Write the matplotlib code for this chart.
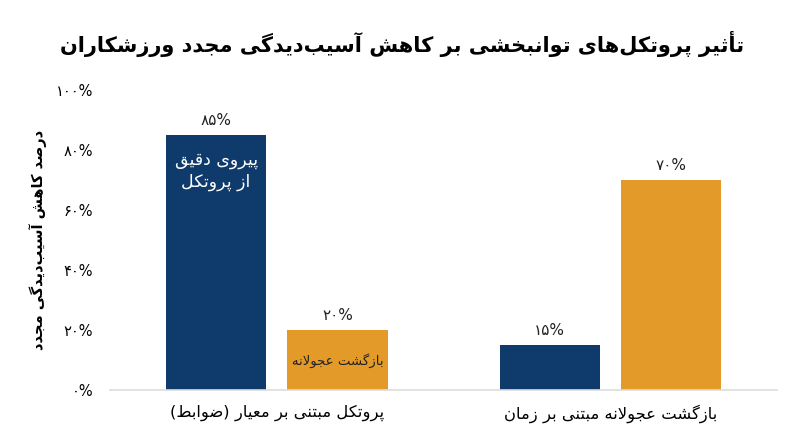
import matplotlib
matplotlib.use('Agg')
import matplotlib.pyplot as plt

plt.rcParams['font.family'] = ['DejaVu Sans']

title = 'تأثیر پروتکل‌های توانبخشی بر کاهش آسیب‌دیدگی مجدد ورزشکاران'
y_label = 'درصد کاهش آسیب‌دیدگی مجدد'
categories = ['پروتکل مبتنی بر معیار (ضوابط)', 'بازگشت عجولانه مبتنی بر زمان']
strict_values = [85, 15]
rushed_values = [20, 70]
strict_name = 'پیروی دقیق\nاز پروتکل'
rushed_name = 'بازگشت عجولانه'
y_ticks = [0, 20, 40, 60, 80, 100]

BLUE = '#0e3a6c'
ORANGE = '#e39a28'

# isolated, final, initial, medial
FORMS = {
    'ا': (0xFE8D, 0xFE8E, None, None), 'آ': (0xFE81, 0xFE82, None, None),
    'أ': (0xFE83, 0xFE84, None, None), 'د': (0xFEA9, 0xFEAA, None, None),
    'ذ': (0xFEAB, 0xFEAC, None, None), 'ر': (0xFEAD, 0xFEAE, None, None),
    'ز': (0xFEAF, 0xFEB0, None, None), 'ژ': (0xFB8A, 0xFB8B, None, None),
    'و': (0xFEED, 0xFEEE, None, None),
    'ب': (0xFE8F, 0xFE90, 0xFE91, 0xFE92), 'پ': (0xFB56, 0xFB57, 0xFB58, 0xFB59),
    'ت': (0xFE95, 0xFE96, 0xFE97, 0xFE98), 'ث': (0xFE99, 0xFE9A, 0xFE9B, 0xFE9C),
    'ج': (0xFE9D, 0xFE9E, 0xFE9F, 0xFEA0), 'چ': (0xFB7A, 0xFB7B, 0xFB7C, 0xFB7D),
    'ح': (0xFEA1, 0xFEA2, 0xFEA3, 0xFEA4), 'خ': (0xFEA5, 0xFEA6, 0xFEA7, 0xFEA8),
    'س': (0xFEB1, 0xFEB2, 0xFEB3, 0xFEB4), 'ش': (0xFEB5, 0xFEB6, 0xFEB7, 0xFEB8),
    'ص': (0xFEB9, 0xFEBA, 0xFEBB, 0xFEBC), 'ض': (0xFEBD, 0xFEBE, 0xFEBF, 0xFEC0),
    'ط': (0xFEC1, 0xFEC2, 0xFEC3, 0xFEC4), 'ظ': (0xFEC5, 0xFEC6, 0xFEC7, 0xFEC8),
    'ع': (0xFEC9, 0xFECA, 0xFECB, 0xFECC), 'غ': (0xFECD, 0xFECE, 0xFECF, 0xFED0),
    'ف': (0xFED1, 0xFED2, 0xFED3, 0xFED4), 'ق': (0xFED5, 0xFED6, 0xFED7, 0xFED8),
    'ک': (0xFB8E, 0xFB8F, 0xFB90, 0xFB91), 'گ': (0xFB92, 0xFB93, 0xFB94, 0xFB95),
    'ل': (0xFEDD, 0xFEDE, 0xFEDF, 0xFEE0), 'م': (0xFEE1, 0xFEE2, 0xFEE3, 0xFEE4),
    'ن': (0xFEE5, 0xFEE6, 0xFEE7, 0xFEE8), 'ه': (0xFEE9, 0xFEEA, 0xFEEB, 0xFEEC),
    'ی': (0xFBFC, 0xFBFD, 0xFBFE, 0xFBFF), 'ئ': (0xFE89, 0xFE8A, 0xFE8B, 0xFE8C),
}
MIRROR = {'(': ')', ')': '('}


def shape_line(s):
    # join letters into presentation forms, then reverse for rtl display
    s = s.replace('لا', '\uFFF0').replace('لآ', '\uFFF1')
    out = []
    chars = list(s)
    for i, c in enumerate(chars):
        prev = chars[i - 1] if i > 0 else None
        nxt = chars[i + 1] if i + 1 < len(chars) else None
        joins_prev = prev in FORMS and FORMS[prev][2] is not None
        if c in ('\uFFF0', '\uFFF1'):
            iso, fin = (0xFEFB, 0xFEFC) if c == '\uFFF0' else (0xFEF5, 0xFEF6)
            out.append(chr(fin if joins_prev else iso))
            continue
        if c not in FORMS:
            if c != '\u200c':
                out.append(MIRROR.get(c, c))
            continue
        iso, fin, ini, med = FORMS[c]
        joins_next = ini is not None and (nxt in FORMS or nxt in ('\uFFF0', '\uFFF1'))
        if joins_prev and joins_next:
            out.append(chr(med))
        elif joins_prev:
            out.append(chr(fin))
        elif joins_next:
            out.append(chr(ini))
        else:
            out.append(chr(iso))
    return ''.join(reversed(out))


def fa(s):
    return '\n'.join(shape_line(line) for line in s.split('\n'))


def fa_num(v):
    digits = '۰۱۲۳۴۵۶۷۸۹'
    return ''.join(digits[int(d)] for d in str(v)) + '%'


fig = plt.figure(figsize=(8, 4.47), dpi=100)
ax = fig.add_axes([0.1375, 0.127, 0.834, 0.671])

x = range(len(categories))
w = 0.3
off = 0.182
xs_strict = [i - off for i in x]
xs_rushed = [i + off for i in x]
ax.bar(xs_strict, strict_values, width=w, color=BLUE)
ax.bar(xs_rushed, rushed_values, width=w, color=ORANGE)

for xi, v in zip(xs_strict + xs_rushed, strict_values + rushed_values):
    ax.text(xi, v + 2.5, fa_num(v), ha='center', va='bottom', fontsize=11, color='#222222')

ax.text(xs_strict[0], strict_values[0] - 12, fa(strict_name), ha='center', va='center',
        fontsize=12.5, color='white', linespacing=1.25)
ax.text(xs_rushed[0], rushed_values[0] / 2, fa(rushed_name), ha='center', va='center',
        fontsize=9.5, color='#222222')

ax.set_xlim(-0.5, 1.5)
ax.set_ylim(0, 100)
ax.set_xticks(list(x))
ax.set_xticklabels([fa(c) for c in categories], fontsize=11.8)
ax.set_yticks(y_ticks)
ax.set_yticklabels([fa_num(t) for t in y_ticks], fontsize=10.5)
ax.tick_params(length=0)
ax.tick_params(axis='y', pad=12)
ax.tick_params(axis='x', pad=10)
for side in ['top', 'right', 'left']:
    ax.spines[side].set_visible(False)
ax.spines['bottom'].set_color('#dddddd')
ax.spines['bottom'].set_linewidth(1.2)

ax.set_ylabel(fa(y_label), fontsize=10.5, fontweight='bold', va='center')
ax.yaxis.set_label_coords(-0.108, 0.5)
fig.suptitle(fa(title), fontsize=15, fontweight='bold', x=0.503, y=0.93)

fig.savefig('out.png', dpi=100, facecolor='white')
